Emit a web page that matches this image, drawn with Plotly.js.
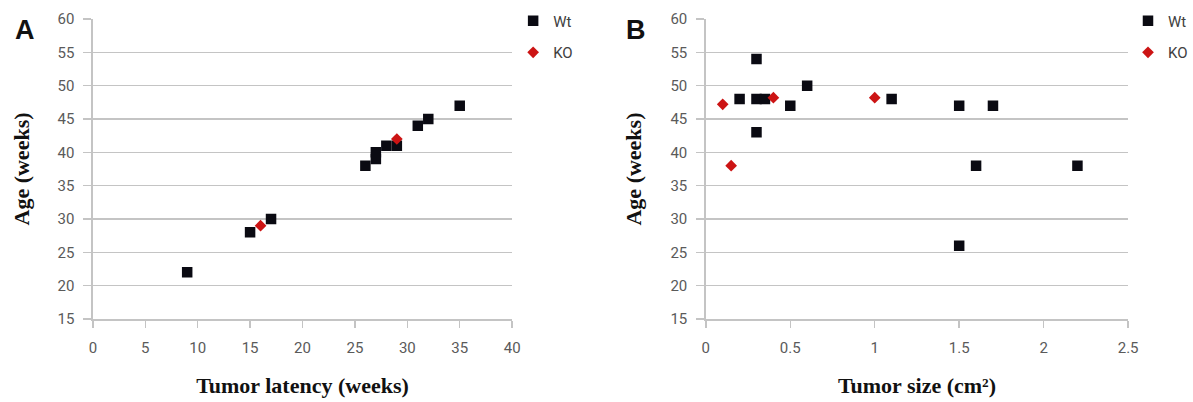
<!DOCTYPE html>
<html>
<head>
<meta charset="utf-8">
<script src="https://cdn.plot.ly/plotly-3.0.1.min.js"></script>
<style>html,body{margin:0;padding:0;background:#fff;}#chart{width:1193px;height:402px;}</style>
</head>
<body>
<div id="chart"></div>
<script>
// Panel A: Tumor latency (weeks) vs Age (weeks)
const latencyWt = [9, 15, 17, 26, 27, 27, 28, 29, 31, 32, 35];
const ageLatWt  = [22, 28, 30, 38, 39, 40, 41, 41, 44, 45, 47];
const latencyKO = [16, 29];
const ageLatKO  = [29, 42];

// Panel B: Tumor size (cm2) vs Age (weeks)
const sizeWt   = [0.2, 0.3, 0.3, 0.3, 0.35, 0.5, 0.6, 1.1, 1.5, 1.7, 1.6, 2.2, 1.5];
const ageSizeWt = [48, 54, 48, 43, 48, 47, 50, 48, 47, 47, 38, 38, 26];
const sizeKO   = [0.1, 0.15, 0.4, 1.0];
const ageSizeKO = [47.2, 38, 48.2, 48.2];

const seriesNames = ['Wt', 'KO'];
const panelLetters = ['A', 'B'];
const xTitles = ['Tumor latency (weeks)', 'Tumor size (cm²)'];
const yTitle = 'Age (weeks)';

const W = 1193;
const px = v => v / W;
const wtMarker = {symbol: 'square', size: 10.5, color: '#0a0a12'};
const koMarker = {symbol: 'diamond', size: 9, color: '#cc1414'};

const traces = [
  {x: latencyWt, y: ageLatWt, name: seriesNames[0], type: 'scatter', mode: 'markers', marker: wtMarker, xaxis: 'x', yaxis: 'y', legend: 'legend', legendgroup: 'a1'},
  {x: latencyKO, y: ageLatKO, name: seriesNames[1], type: 'scatter', mode: 'markers', marker: koMarker, xaxis: 'x', yaxis: 'y', legend: 'legend', legendgroup: 'a2'},
  {x: sizeWt, y: ageSizeWt, name: seriesNames[0], type: 'scatter', mode: 'markers', marker: wtMarker, xaxis: 'x2', yaxis: 'y2', legend: 'legend2', legendgroup: 'b1'},
  {x: sizeKO, y: ageSizeKO, name: seriesNames[1], type: 'scatter', mode: 'markers', marker: koMarker, xaxis: 'x2', yaxis: 'y2', legend: 'legend2', legendgroup: 'b2'}
];

const gridCol = '#c4c4c4';
const tickFont = {family: 'Roboto, sans-serif', size: 15, color: '#5a5a5a'};
const titleFont = {family: '"Liberation Serif", "Times New Roman", serif', size: 22, color: '#111', weight: 'bold'};

function xAxis(domain, range, dtick, title, anchor) {
  return {
    domain: domain, range: range, dtick: dtick, tick0: 0, anchor: anchor,
    showgrid: false, zeroline: false, showline: true, linecolor: gridCol, linewidth: 1.5,
    ticks: 'outside', ticklen: 7, tickcolor: gridCol, tickwidth: 1.5,
    tickfont: tickFont, ticklabelstandoff: 7, automargin: false,
    title: {text: title, font: titleFont, standoff: 22}
  };
}
function yAxis(range, anchor) {
  return {
    domain: [0, 1], range: range, dtick: 5, tick0: 15, anchor: anchor,
    showgrid: true, gridcolor: gridCol, gridwidth: 1.5, zeroline: false,
    showline: true, linecolor: gridCol, linewidth: 1.5,
    ticks: 'outside', ticklen: 8, tickcolor: gridCol, tickwidth: 1.5,
    tickfont: tickFont, ticklabelstandoff: 6, automargin: false,
    title: {text: yTitle, font: titleFont, standoff: 22}
  };
}

const legendBase = {
  font: {family: 'Roboto, sans-serif', size: 15, color: '#404040'},
  bgcolor: 'rgba(0,0,0,0)', borderwidth: 0, traceorder: 'grouped', tracegroupgap: 9,
  xanchor: 'left', yanchor: 'top', y: 1.048, itemclick: false
};

const layout = {
  width: 1193, height: 402,
  margin: {l: 0, r: 0, t: 19, b: 83},
  paper_bgcolor: '#fff', plot_bgcolor: '#fff',
  showlegend: true,
  xaxis: xAxis([px(93), px(513)], [0, 40], 5, xTitles[0], 'y'),
  yaxis: yAxis([15, 60], 'x'),
  xaxis2: xAxis([px(707), px(1130)], [0, 2.5], 0.5, xTitles[1], 'y2'),
  yaxis2: yAxis([15, 60], 'x2'),
  legend: Object.assign({}, legendBase, {x: px(514)}),
  legend2: Object.assign({}, legendBase, {x: px(1130)}),
  annotations: [
    {text: panelLetters[0], xref: 'paper', yref: 'paper', x: px(25), y: 0.963, showarrow: false, xanchor: 'center', yanchor: 'middle', font: {family: 'Liberation Sans, Arial, sans-serif', size: 27, color: '#111', weight: 'bold'}},
    {text: panelLetters[1], xref: 'paper', yref: 'paper', x: px(637), y: 0.963, showarrow: false, xanchor: 'center', yanchor: 'middle', font: {family: 'Liberation Sans, Arial, sans-serif', size: 27, color: '#111', weight: 'bold'}}
  ]
};

Plotly.newPlot('chart', traces, layout, {displayModeBar: false, staticPlot: true});
</script>
</body>
</html>
